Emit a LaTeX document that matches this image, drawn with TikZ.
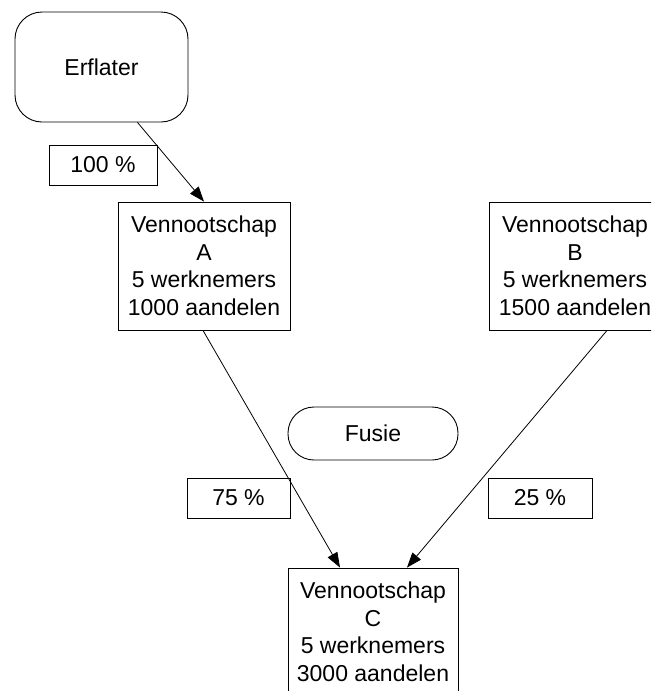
\documentclass[tikz,border=0pt]{standalone}
\usepackage{fontspec}
\setmainfont{Liberation Sans}
\usetikzlibrary{arrows.meta}
\begin{document}
\begin{tikzpicture}[x=1pt,y=-1pt,
  txt/.style={font=\fontsize{23}{27.5}\selectfont, align=center, inner sep=0pt},
  box/.style={txt, draw=black, line width=0.9pt},
  rbox/.style={box, rounded corners=#1},
  conn/.style={draw=black, line width=0.8pt, -{Triangle[length=15pt,width=11pt]}}]
\clip (0,0) rectangle (651,691);
\fill[white] (0,0) rectangle (651,691);
\node[rbox=27pt, minimum width=173pt, minimum height=110pt] (erf) at (101.5,67) {Erflater};
\node[box, minimum width=108pt, minimum height=40pt] (p100) at (103,165) {100 \%};
\node[box, minimum width=172pt, minimum height=128pt] (A) at (204,266) {Vennootschap\\A\\5 werknemers\\1000 aandelen};
\node[box, minimum width=172pt, minimum height=128pt] (B) at (575,266) {Vennootschap\\B\\5 werknemers\\1500 aandelen};
\node[rbox=26pt, minimum width=170pt, minimum height=53pt] (fusie) at (373,433.5) {Fusie};
\node[box, minimum width=103pt, minimum height=40pt] (p75) at (238.5,498) {75 \%};
\node[box, minimum width=104pt, minimum height=40pt] (p25) at (540,498) {25 \%};
\node[box, minimum width=170pt, minimum height=128pt] (C) at (373,632) {Vennootschap\\C\\5 werknemers\\3000 aandelen};
\draw[conn] ([xshift=36pt]erf.south) -- (A.north);
\draw[conn] ([xshift=-1pt]A.south) -- ([xshift=-33pt]C.north);
\draw[conn] ([xshift=32pt]B.south) -- ([xshift=34pt]C.north);
\end{tikzpicture}
\end{document}
